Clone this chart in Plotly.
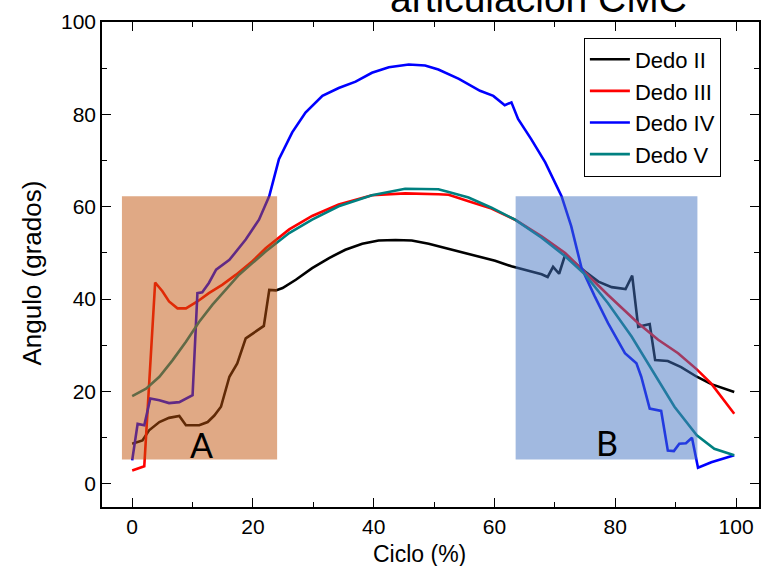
import plotly.graph_objects as go

# ---- data ----
names = ["Dedo II", "Dedo III", "Dedo IV", "Dedo V"]

x_ii = [0, 1.7, 2.8, 4.5, 6.1, 7.8, 8.9, 11.1, 12.5, 13.6, 14.7, 15.5, 16.1, 17.4, 18.8, 21.8,
        22.7, 23.8, 24.9, 27.1, 29.8, 32.6, 35.3, 38.1, 40.8, 43.6, 46.3, 49.1, 51.8, 54.6, 57.3,
        60.1, 62.8, 65.6, 67.8, 68.8, 69.7, 70.7, 71.7, 75.0, 77.2, 79.4, 81.7, 82.8, 83.8, 85.7,
        86.6, 88.7, 90.9, 93.5, 95.9, 99.7]
y_ii = [8.7, 9.4, 11.6, 13.4, 14.3, 14.7, 12.7, 12.7, 13.4, 14.8, 16.7, 20.3, 23.2, 26.1, 31.5, 34.2,
        42.0, 41.9, 42.4, 44.2, 46.7, 48.9, 50.7, 52.0, 52.7, 52.8, 52.7, 52.0, 51.1, 50.1, 49.3,
        48.3, 47.1, 46.2, 45.4, 44.8, 47.0, 45.5, 49.6, 46.0, 43.8, 42.6, 42.2, 45.1, 34.0, 34.6,
        26.8, 26.6, 25.3, 23.2, 21.6, 19.9]

x_iii = [0, 2.0, 3.8, 5.0, 6.1, 7.5, 8.9, 10.8, 12.7, 14.9, 17.2, 19.9, 22.1, 26.0, 29.8, 34.2,
         39.7, 45.2, 50.7, 52.4, 55.7, 59.5, 63.4, 67.8, 71.7, 75.0, 78.8, 83.8, 87.1, 90.4,
         93.5, 95.9, 99.7]
y_iii = [2.9, 3.8, 43.6, 41.7, 39.5, 38.0, 38.0, 39.5, 41.3, 43.1, 45.3, 48.2, 51.0, 55.1, 58.0, 60.5,
         62.5, 62.9, 62.7, 62.6, 61.2, 59.6, 57.2, 53.6, 50.0, 45.7, 40.9, 34.8, 31.2, 28.3,
         24.8, 21.7, 15.2]

x_iv = [0, 0.9, 2.0, 3.0, 4.5, 6.1, 7.8, 10.0, 10.8, 11.6, 12.7, 13.9, 16.1, 18.8, 21.0, 22.7,
        24.3, 26.5, 28.7, 31.5, 34.2, 37.0, 39.7, 42.5, 45.8, 48.5, 50.7, 54.1, 57.6, 59.8, 61.7,
        62.8, 63.9, 66.1, 68.4, 71.1, 72.7, 74.4, 76.6, 78.8, 81.6, 83.5, 84.3, 85.7, 87.6, 88.7,
        89.7, 90.6, 91.7, 92.7, 93.7, 95.9, 99.7]
y_iv = [5.1, 13.0, 12.7, 18.5, 18.1, 17.5, 17.7, 19.2, 41.3, 41.5, 43.5, 46.4, 48.5, 52.9, 57.2, 62.3,
        70.3, 76.1, 80.4, 84.0, 85.7, 87.1, 89.0, 90.2, 90.8, 90.6, 89.7, 87.7, 85.1, 84.0, 82.0,
        82.6, 79.0, 74.6, 69.6, 62.3, 55.8, 46.8, 40.6, 34.8, 28.3, 26.1, 23.2, 16.3, 15.8, 7.2,
        7.1, 8.7, 8.8, 10.0, 3.5, 4.7, 6.2]

x_v = [0, 2.3, 4.5, 6.7, 8.9, 11.1, 13.3, 15.5, 17.7, 19.9, 22.1, 26.0, 29.8, 34.2, 39.7, 45.2,
       47.4, 50.7, 52.4, 55.7, 59.5, 63.4, 67.8, 71.7, 75.0, 78.8, 82.7, 86.5, 89.8, 93.5, 96.4, 99.7]
y_v = [19.0, 20.6, 23.2, 26.8, 30.8, 35.1, 38.8, 42.0, 45.3, 47.8, 50.3, 54.3, 57.2, 60.1, 62.5, 63.9,
       63.9, 63.8, 63.2, 62.0, 59.8, 57.2, 53.3, 49.3, 45.3, 39.1, 31.9, 23.9, 16.7, 10.5, 7.6, 6.2]

tick_vals = [0, 20, 40, 60, 80, 100]

colors = ["#000000", "#FF0000", "#0000FF", "#008080"]
xs = [x_ii, x_iii, x_iv, x_v]
ys = [y_ii, y_iii, y_iv, y_v]

FONT = "Liberation Sans, Arial, sans-serif"

fig = go.Figure()
for n, c, xv, yv in zip(names, colors, xs, ys):
    fig.add_trace(go.Scatter(x=xv, y=yv, mode="lines", name=n,
                             line=dict(color=c, width=2.6)))

# shaded regions
fig.add_shape(type="rect", x0=-1.7, x1=24.0, y0=5.3, y1=62.3, layer="above",
              fillcolor="rgba(193,83,11,0.5)", line=dict(width=0))
fig.add_shape(type="rect", x0=63.5, x1=93.6, y0=5.3, y1=62.3, layer="above",
              fillcolor="rgba(67,115,193,0.5)", line=dict(width=0))

fig.add_annotation(x=11.4, y=8.6, text="A", showarrow=False,
                   font=dict(family="Lato, Open Sans, sans-serif", size=34, color="black"))
fig.add_annotation(x=78.6, y=8.9, text="B", showarrow=False,
                   font=dict(family="Lato, Open Sans, sans-serif", size=34, color="black"))

# partially visible title
fig.add_annotation(xref="paper", yref="paper", x=0.664, y=1.0, xanchor="center", yanchor="bottom",
                   text="articulación CMC", showarrow=False,
                   font=dict(family=FONT, size=39, color="black"))

# axis titles
fig.add_annotation(xref="paper", yref="paper", x=0.484, y=-0.0, yshift=-32, xanchor="center", yanchor="top",
                   text="Ciclo (%)", showarrow=False,
                   font=dict(family=FONT, size=23, color="black"))
fig.add_annotation(xref="paper", yref="paper", x=-0.106, y=0.482, xanchor="center", yanchor="middle",
                   text="Angulo (grados)", textangle=-90, showarrow=False,
                   font=dict(family=FONT, size=26, color="black"))

axis_common = dict(showline=True, linecolor="black", linewidth=1.5, mirror="ticks",
                   ticks="inside", ticklen=9, tickwidth=1.3, tickcolor="black",
                   showgrid=False, zeroline=False,
                   tickfont=dict(family=FONT, size=21, color="black"),
                   minor=dict(ticks="inside", ticklen=5, tickwidth=1.3, tickcolor="black", dtick=10, showgrid=False))

fig.update_xaxes(range=[-5, 103.8], tickmode="array", tickvals=tick_vals, **axis_common)
fig.update_yaxes(range=[-5, 100], tickmode="array", tickvals=tick_vals, **axis_common)

fig.update_layout(
    width=761, height=566,
    margin=dict(l=102, r=0, t=22, b=59),
    paper_bgcolor="white", plot_bgcolor="white",
    font=dict(family=FONT, color="black"),
    legend=dict(x=0.942, y=0.968, xanchor="right", yanchor="top",
                bordercolor="black", borderwidth=1, bgcolor="white",
                font=dict(family=FONT, size=22, color="black"),
                tracegroupgap=0, itemwidth=40),
    showlegend=True,
)

fig.write_html("out.html")
